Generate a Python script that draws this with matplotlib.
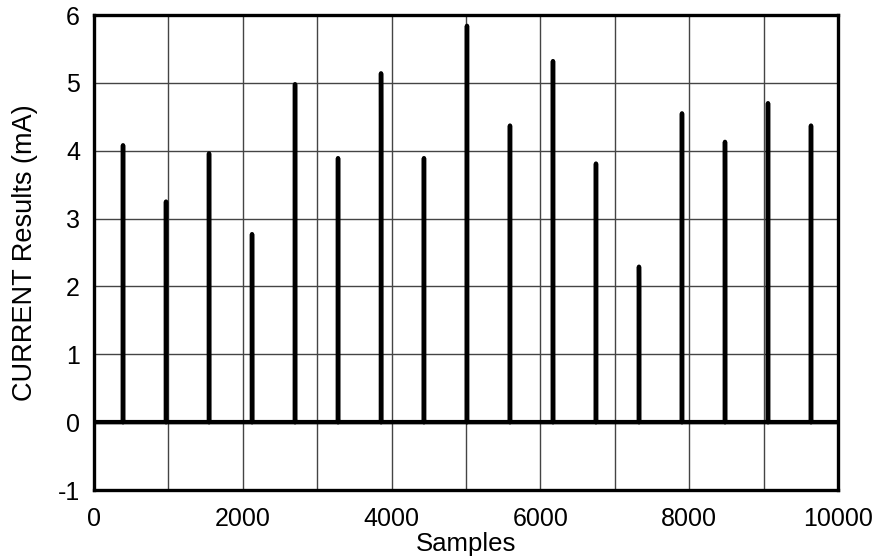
import numpy as np
import matplotlib
matplotlib.use("Agg")
import matplotlib.pyplot as plt

plt.rcParams['font.family'] = ['Liberation Sans', 'DejaVu Sans']
plt.rcParams['axes.unicode_minus'] = False

# posições dos picos (amostras) e alturas
spike_pos = [390, 968, 1546, 2124, 2702, 3280, 3858, 4435, 5013,
             5591, 6169, 6747, 7325, 7903, 8481, 9059, 9637]
spike_peak = [4.08, 3.25, 3.96, 2.77, 4.98, 3.89, 5.14, 3.89, 5.84,
              4.37, 5.32, 3.81, 2.29, 4.55, 4.13, 4.70, 4.37]
spike_second = [0, 1.53, 2.14, 1.55, 0, 0, 4.48, 0, 0,
                0, 1.2, 0, 2.04, 0, 3.44, 0, 0]
n_samples = 10000

# montando o sinal amostra a amostra
x = [0]
y = [0.0]
for p, h, h2 in zip(spike_pos, spike_peak, spike_second):
    x += [p - 1, p, p + 1, p + 2]
    y += [0.0, h, h2, 0.0]
x.append(n_samples)
y.append(0.0)

fig = plt.figure(figsize=(8.81, 5.6), dpi=100)
ax = fig.add_axes([0.1067, 0.125, 0.8445, 0.8482])

ax.plot(x, y, color='black', linewidth=3.2, solid_capstyle='round')

ax.set_xlim(0, 10000)
ax.set_ylim(-1, 6)
ax.set_xticks(np.arange(0, 10001, 1000))
ax.set_xticklabels([str(v) if v % 2000 == 0 else '' for v in range(0, 10001, 1000)])
ax.set_yticks(np.arange(-1, 7, 1))
ax.grid(True, color='#444444', linewidth=1.0)
ax.set_axisbelow(True)
ax.tick_params(length=0, labelsize=18, pad=10)
ax.tick_params(axis='x', pad=12)

for s in ax.spines.values():
    s.set_linewidth(2.4)
    s.set_color('black')

ax.set_xlabel('Samples', fontsize=18.5, labelpad=1)
ax.set_ylabel('CURRENT Results (mA)', fontsize=19.5, labelpad=14)

plt.savefig('out.png', dpi=100)
